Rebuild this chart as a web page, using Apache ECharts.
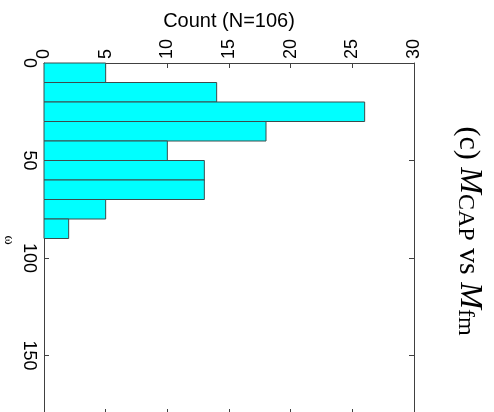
<!DOCTYPE html>
<html>
<head>
<meta charset="utf-8">
<script src="https://cdn.jsdelivr.net/npm/echarts@6/dist/echarts.min.js"></script>
<style>
html,body{margin:0;padding:0;background:#fff;}
#c{width:494px;height:412px;}
</style>
</head>
<body>
<div id="c"></div>
<script>
// Data
const binEdgesLow = [0, 10, 20, 30, 40, 50, 60, 70, 80];
const binEdgesHigh = [10, 20, 30, 40, 50, 60, 70, 80, 90];
const counts = [5, 14, 26, 18, 10, 13, 13, 5, 2];
const countTicks = [0, 5, 10, 15, 20, 25, 30];
const omegaTicks = [0, 50, 100, 150];
const countLabel = 'Count (N=106)';
const omegaLabel = 'ω';

const chart = echarts.init(document.getElementById('c'), null, {renderer: 'canvas'});
const sans = "'Liberation Sans', Arial, sans-serif";
const serif = "'Liberation Serif', 'Times New Roman', serif";
const axisCol = '#404040';

const data = counts.map((c, i) => [binEdgesLow[i], binEdgesHigh[i], c]);

const commonTick = {show: true, inside: true, length: 5, lineStyle: {color: axisCol}};
const line = {show: true, onZero: false, lineStyle: {color: axisCol}};

chart.setOption({
  animation: false,
  backgroundColor: '#fff',
  grid: {left: 44, top: 63, width: 370, height: 351, containLabel: false, outerBoundsMode: 'none'},
  xAxis: [{
    type: 'value', position: 'top', min: 0, max: 30, interval: 5,
    name: countLabel, nameLocation: 'middle', nameGap: 29,
    nameTextStyle: {fontFamily: sans, fontSize: 20, color: '#000'},
    axisLine: line,
    axisTick: commonTick,
    axisLabel: {rotate: -90, fontFamily: sans, fontSize: 18, color: '#000', margin: 4,
      formatter: v => countTicks.includes(v) ? String(v) : ''},
    splitLine: {show: false}
  }, {
    type: 'value', position: 'bottom', min: 0, max: 30, interval: 5,
    axisLine: line,
    axisTick: commonTick, axisLabel: {show: false}, splitLine: {show: false}
  }],
  yAxis: [{
    type: 'value', position: 'left', inverse: true, min: 0, max: 180, interval: 50,
    axisLine: line,
    axisTick: commonTick,
    axisLabel: {rotate: -90, fontFamily: sans, fontSize: 18, color: '#000', margin: 6,
      showMaxLabel: false,
      formatter: v => omegaTicks.includes(v) ? String(v) : ''},
    splitLine: {show: false}
  }, {
    type: 'value', position: 'right', inverse: true, min: 0, max: 180, interval: 50,
    axisLine: line,
    axisTick: commonTick, axisLabel: {show: false}, splitLine: {show: false}
  }],
  series: [{
    type: 'custom',
    xAxisIndex: 0, yAxisIndex: 0,
    encode: {x: 2, y: [0, 1]},
    data: data,
    renderItem: function (params, api) {
      const lo = api.value(0), hi = api.value(1), c = api.value(2);
      const p0 = api.coord([0, lo]);
      const p1 = api.coord([c, hi]);
      return {
        type: 'rect',
        shape: {x: p0[0], y: Math.min(p0[1], p1[1]), width: p1[0] - p0[0], height: Math.abs(p1[1] - p0[1])},
        style: {fill: '#00FFFF', stroke: '#3c4c4c', lineWidth: 1}
      };
    }
  }],
  graphic: [{
    type: 'text', x: 9, y: 240, rotation: -Math.PI / 2,
    style: {
      text: omegaLabel, align: 'center', verticalAlign: 'middle',
      fill: '#000', font: "14px 'Liberation Serif', serif"
    }
  }, {
    type: 'text', x: 470, y: 231, rotation: -Math.PI / 2,
    style: {
      text: '{n|(c) }{m|M}{s|CAP}{n| vs }{m|M}{s|fm}',
      align: 'center', verticalAlign: 'middle',
      fill: '#000',
      rich: {
        n: {fontFamily: serif, fontSize: 30, lineHeight: 34, verticalAlign: 'bottom'},
        m: {fontFamily: serif, fontSize: 32, fontStyle: 'italic', lineHeight: 34, verticalAlign: 'bottom'},
        s: {fontFamily: serif, fontSize: 24, lineHeight: 34, verticalAlign: 'bottom'}
      }
    }
  }]
});
</script>
</body>
</html>
